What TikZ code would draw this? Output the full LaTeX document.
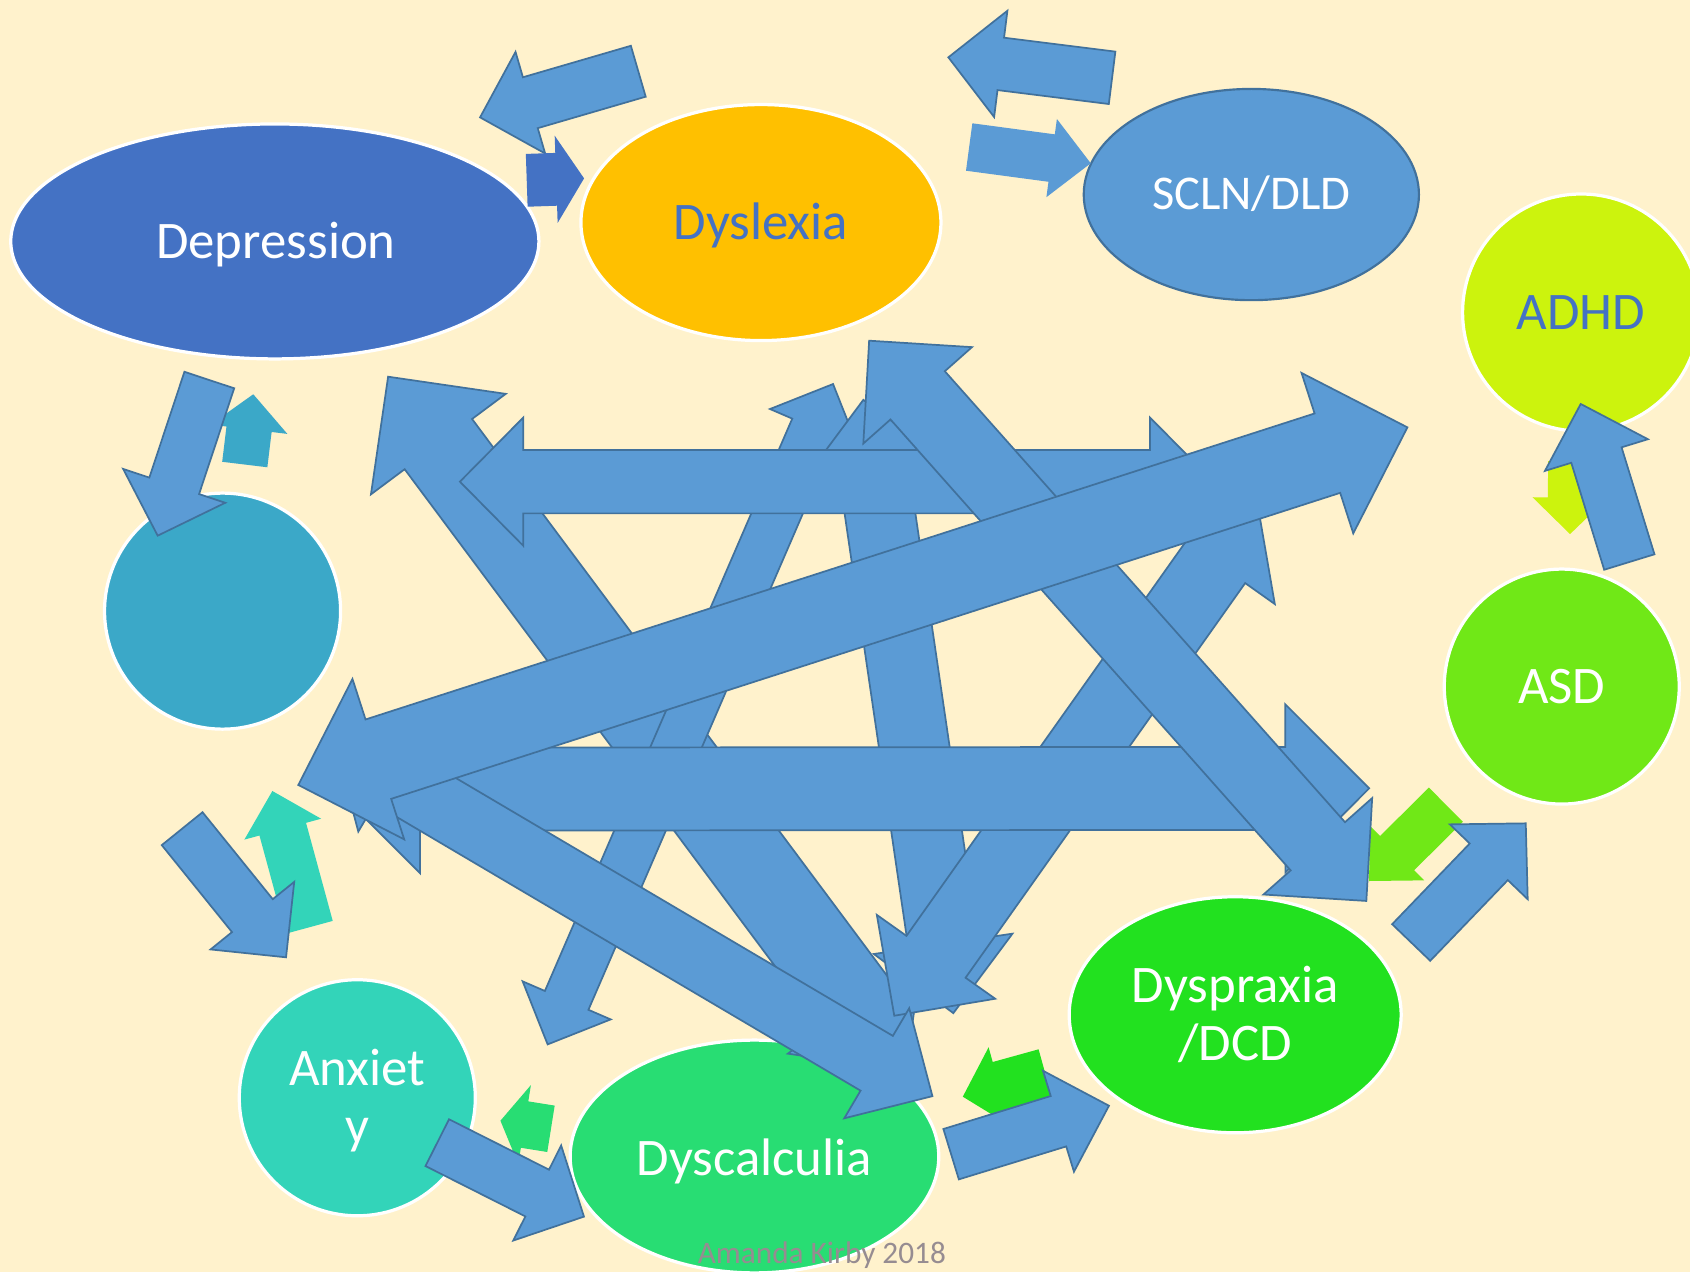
\documentclass[tikz,border=0pt]{standalone}
\usepackage{fontspec}
\setmainfont{Carlito}
\usetikzlibrary{calc,shapes.geometric}
\definecolor{bg}{HTML}{FFF2CC}
\definecolor{arrowblue}{HTML}{5B9BD5}
\definecolor{arrowline}{HTML}{41719C}
\definecolor{cDep}{HTML}{4472C4}
\definecolor{cDysl}{HTML}{FFC000}
\definecolor{cADHD}{HTML}{CCF30D}
\definecolor{cASD}{HTML}{70E817}
\definecolor{cDysp}{HTML}{22E11F}
\definecolor{cDysc}{HTML}{28DD73}
\definecolor{cAnx}{HTML}{33D4B9}
\definecolor{cUn}{HTML}{3BA8C8}
\definecolor{cFoot}{HTML}{968C91}
% single block arrow: style, tail centre, tip, half shaft, half head, head length
\newcommand\sarrow[6]{%
  \coordinate (sT) at (#2); \coordinate (sP) at (#3);
  \coordinate (sB) at ($(sP)!#6pt!(sT)$);
  \path[#1] ($(sT)!#4pt!90:(sP)$) -- ($(sB)!#4pt!-90:(sT)$) -- ($(sB)!#5pt!-90:(sT)$) -- (sP)
    -- ($(sB)!#5pt!90:(sT)$) -- ($(sB)!#4pt!90:(sT)$) -- ($(sT)!#4pt!-90:(sP)$) -- cycle;}
% double block arrow: style, tip A, tip B, half shaft, half head, head length
\newcommand\darrow[6]{%
  \coordinate (dA) at (#2); \coordinate (dB) at (#3);
  \coordinate (dQ) at ($(dA)!#6pt!(dB)$); \coordinate (dR) at ($(dB)!#6pt!(dA)$);
  \path[#1] (dA) -- ($(dQ)!#5pt!90:(dB)$) -- ($(dQ)!#4pt!90:(dB)$) -- ($(dR)!#4pt!-90:(dA)$)
    -- ($(dR)!#5pt!-90:(dA)$) -- (dB) -- ($(dR)!#5pt!90:(dA)$) -- ($(dR)!#4pt!90:(dA)$)
    -- ($(dQ)!#4pt!-90:(dB)$) -- ($(dQ)!#5pt!-90:(dB)$) -- cycle;}
\begin{document}
\begin{tikzpicture}[x=1pt,y=-1pt,
  blu/.style={fill=arrowblue, draw=arrowline, line width=1.6pt},
  bluN/.style={fill=arrowblue},
  dblu/.style={fill=cDep},
  shp/.style={ellipse, inner sep=0pt, draw=white, line width=3pt},
  lbl/.style={anchor=base, inner sep=0pt, text=white, font=\fontsize{49pt}{54pt}\selectfont}]
\useasboundingbox (0,0) rectangle (1568,1180);
\fill[bg] (0,0) rectangle (1568,1180);
% shapes
\node[shp, fill=cDep, minimum width=490pt, minimum height=218pt] (dep) at (255,224) {};
\node[shp, fill=cDysl, minimum width=334pt, minimum height=219pt] (dysl) at (706,206.5) {};
\node[shp, fill=arrowblue, draw=arrowline, line width=2pt, minimum width=311pt, minimum height=196pt] (scln) at (1161,180.5) {};
\node[shp, fill=cADHD, minimum width=220pt, minimum height=220pt] (adhd) at (1467,290) {};
\node[shp, fill=cASD, minimum width=218pt, minimum height=218pt] (asd) at (1449,637) {};
\node[shp, fill=cDysp, minimum width=308pt, minimum height=219pt] (dysp) at (1146,941.5) {};
\node[shp, fill=cDysc, minimum width=342pt, minimum height=216pt] (dysc) at (700,1073) {};
\node[shp, fill=cAnx, minimum width=219pt, minimum height=219pt] (anx) at (331.5,1018.5) {};
\node[shp, fill=cUn, minimum width=219pt, minimum height=219pt] (un) at (206.5,567) {};
% labels
\node[lbl] (depT) at (256,239.5) {Depression};
\node[lbl, text=cDep] (dyslT) at (706,222) {Dyslexia};
\node[lbl, font=\fontsize{45pt}{50pt}\selectfont] (sclnT) at (1161,194.7) {SCLN/DLD};
\node[lbl, text=cDep] (adhdT) at (1467,305.5) {ADHD};
\node[lbl] (asdT) at (1449,652.5) {ASD};
\node[lbl] (dyspT1) at (1146,930) {Dyspraxia};
\node[lbl] (dyspT2) at (1146,984) {/DCD};
\node[lbl] (anxT1) at (331.5,1007) {Anxiet};
\node[lbl] (anxT2) at (331.5,1061) {y};
\node[lbl] (dyscT) at (700,1090.5) {Dyscalculia};
% coloured small arrows (behind)
\sarrow{fill=cUn}{227.1,431.0}{235.0,365.8}{21.1}{35.8}{32.7}
\sarrow{fill=cAnx}{287.1,860.3}{252.7,733.9}{22.4}{36.9}{36.7}
\sarrow{fill=cADHD}{1457,428}{1456.7,495.5}{20.7}{35}{34}
\sarrow{fill=cASD}{1341.5,746.6}{1270.2,817.4}{22.4}{35.6}{36.7}
\sarrow{fill=cDysc}{511.2,1047.3}{464.3,1039.8}{21.8}{37.1}{22.7}
\sarrow{fill=cDysp}{969.9,996.3}{893.3,1017.5}{23.6}{37.8}{35.3}
% small blue arrows
\sarrow{blu}{592.2,66.1}{445.4,108.9}{24.6}{49.1}{48.6}
\sarrow{dblu}{488.7,167.3}{541.9,165.5}{24.5}{40.5}{25.9}
\sarrow{blu}{1031.8,72.2}{879.9,53.2}{24.5}{49.7}{49.0}
\sarrow{bluN}{899.2,136.4}{1012.0,151.5}{22.2}{36.6}{36.6}
\sarrow{blu}{194.2,352.6}{146.3,497.0}{24.3}{49.9}{48.7}
\sarrow{blu}{169.0,768.85}{265.4,888.2}{24.3}{49.9}{49.7}
\sarrow{blu}{1511.7,521.45}{1466.6,374.8}{24.4}{50.0}{49.6}
\sarrow{blu}{1309.3,874.45}{1415.6,763.9}{24.5}{50.1}{49.5}
\sarrow{blu}{405.7,1060.15}{541.8,1128.8}{24.3}{49.4}{48.6}
\sarrow{blu}{882.45,1070.85}{1028.9,1025.9}{24.45}{49.0}{49.0}
% big arrows in the middle
\darrow{blu}{360.1,349.5}{840.1,993.5}{39}{78}{78}
\darrow{blu}{772.9,356.3}{508.1,969.0}{22}{44.5}{44.5}
\darrow{blu}{801,371}{884.5,940}{32.5}{65}{65}
\darrow{blu}{1166.6,466.9}{829.7,942.4}{33.6}{67.3}{67}
\darrow{blu}{426.7,446.9}{1125.8,446.9}{29.4}{59.5}{58.8}
\darrow{blu}{311.9,732.2}{1270.3,731.4}{38.5}{78.1}{77.8}
\darrow{blu}{310.9,690}{865.1,1017.0}{29.5}{59.3}{60}
\darrow{blu}{806.4,316.1}{1267.7,835.9}{33.7}{67.4}{67.8}
\darrow{blu}{276.8,728.3}{1305.8,396.5}{38.7}{78.2}{78}
% footer
\node[anchor=base, inner sep=0pt, text=cFoot, font=\fontsize{29pt}{34pt}\selectfont] (foot) at (762.5,1172) {Amanda Kirby 2018};
\end{tikzpicture}
\end{document}
